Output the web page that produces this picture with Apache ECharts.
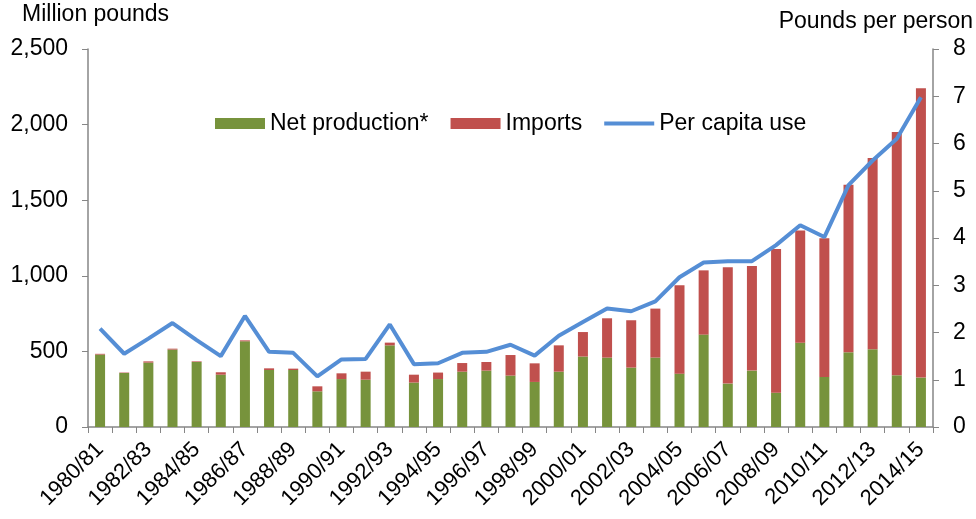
<!DOCTYPE html>
<html>
<head>
<meta charset="utf-8">
<script src="https://cdn.jsdelivr.net/npm/echarts@6/dist/echarts.min.js"></script>
<style>
  html, body { margin: 0; padding: 0; background: #fff; }
  #chart { width: 976px; height: 519px; }
</style>
</head>
<body>
<div id="chart"></div>
<script>
// marketing years
const years = [
  "1980/81", "1981/82", "1982/83", "1983/84", "1984/85", "1985/86", "1986/87",
  "1987/88", "1988/89", "1989/90", "1990/91", "1991/92", "1992/93", "1993/94",
  "1994/95", "1995/96", "1996/97", "1997/98", "1998/99", "1999/00", "2000/01",
  "2001/02", "2002/03", "2003/04", "2004/05", "2005/06", "2006/07", "2007/08",
  "2008/09", "2009/10", "2010/11", "2011/12", "2012/13", "2013/14", "2014/15"
];

// million pounds
const netProduction = [
  479, 357, 426, 512, 430, 346, 567, 377, 377, 236, 317, 313, 540, 294,
  317, 366, 373, 340, 298, 366, 466, 459, 393, 459, 353, 611, 287, 373,
  227, 558, 331, 494, 514, 342, 327
];
const imports = [
  5, 3, 8, 6, 4, 16, 6, 11, 9, 33, 38, 53, 18, 52,
  43, 57, 57, 136, 123, 174, 162, 260, 313, 324, 584, 425, 769, 692,
  950, 742, 917, 1109, 1265, 1609, 1913
];

// pounds per person
const perCapita = [
  2.08, 1.55, 1.87, 2.20, 1.84, 1.50, 2.35, 1.59, 1.57, 1.07, 1.43, 1.44, 2.17, 1.33,
  1.35, 1.57, 1.59, 1.74, 1.51, 1.93, 2.22, 2.51, 2.45, 2.66, 3.17, 3.48, 3.51, 3.51,
  3.85, 4.27, 4.02, 5.12, 5.64, 6.10, 6.98
];

const axisGray = "#868686";
const font = "'Liberation Sans', Arial, sans-serif";

const chart = echarts.init(document.getElementById("chart"));

chart.setOption({
  animation: false,
  textStyle: { fontFamily: font, color: "#000" },
  grid: { left: 88, right: 43, top: 49, bottom: 92 },
  graphic: [
    {
      type: "text", left: 22, top: 3,
      style: { text: "Million pounds", font: "23px " + font, fill: "#000" }
    },
    {
      type: "text", right: 3, top: 10,
      style: { text: "Pounds per person", font: "23px " + font, fill: "#000" }
    }
  ],
  legend: {
    left: 210, top: 107,
    itemWidth: 50, itemHeight: 11, itemGap: 22,
    textStyle: { fontSize: 23, color: "#000", fontFamily: font },
    data: [
      { name: "Net production*", icon: "rect" },
      { name: "Imports", icon: "rect" },
      // thin line icon (moveTo points keep the full box)
      { name: "Per capita use", icon: "path://M0,0 M50,11 M0,3.5 L50,3.5 L50,7.5 L0,7.5 Z" }
    ]
  },
  xAxis: {
    type: "category",
    data: years,
    boundaryGap: true,
    axisLine: { lineStyle: { color: axisGray, width: 1.5 } },
    axisTick: { show: true, interval: 0, length: 6, lineStyle: { color: axisGray } },
    axisLabel: {
      interval: 1, rotate: 45, margin: 19,
      fontSize: 22, color: "#000", fontFamily: font
    }
  },
  yAxis: [
    {
      type: "value", min: 0, max: 2500, interval: 500,
      axisLine: { show: true, lineStyle: { color: axisGray, width: 1.5 } },
      axisTick: { show: true, length: 6, lineStyle: { color: axisGray } },
      splitLine: { show: false },
      axisLabel: {
        margin: 20, fontSize: 23, color: "#000", fontFamily: font,
        formatter: (v) => v.toLocaleString("en-US")
      }
    },
    {
      type: "value", min: 0, max: 8, interval: 1,
      position: "right",
      axisLine: { show: true, lineStyle: { color: axisGray, width: 1.5 } },
      axisTick: { show: true, length: 6, lineStyle: { color: axisGray } },
      splitLine: { show: false },
      axisLabel: { margin: 20, fontSize: 23, color: "#000", fontFamily: font }
    }
  ],
  series: [
    {
      name: "Net production*",
      type: "bar",
      stack: "total",
      barWidth: 10,
      itemStyle: { color: "#77933C" },
      data: netProduction
    },
    {
      name: "Imports",
      type: "bar",
      stack: "total",
      barWidth: 10,
      itemStyle: { color: "#C0504D" },
      data: imports
    },
    {
      name: "Per capita use",
      type: "line",
      yAxisIndex: 1,
      symbol: "none",
      lineStyle: { color: "#558ED5", width: 4 },
      itemStyle: { color: "#558ED5" },
      data: perCapita
    }
  ]
});
</script>
</body>
</html>
